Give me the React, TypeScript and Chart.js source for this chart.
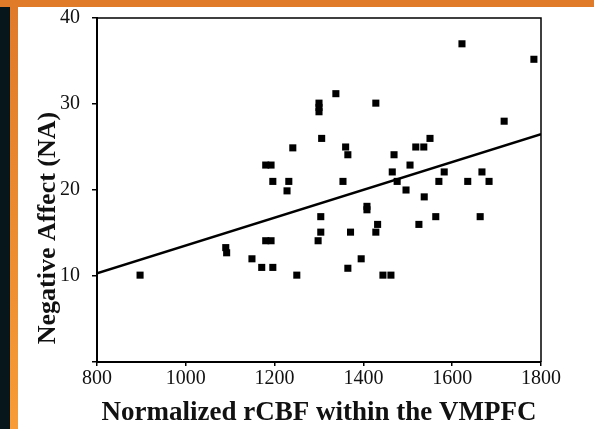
import React, { useEffect, useRef } from "react";
import { Chart, registerables } from "chart.js";

Chart.register(...registerables);

// Scatter data: normalized rCBF (x) vs Negative Affect (y)
const rcbf = [
  897, 1090, 1092, 1149, 1171, 1196, 1180, 1192, 1250, 1180, 1192, 1196, 1232,
  1228, 1241, 1298, 1304, 1304, 1300, 1300, 1300, 1306, 1338, 1354, 1360, 1365,
  1365, 1371, 1395, 1408, 1408, 1428, 1428, 1432, 1444, 1462, 1465, 1469, 1476,
  1496, 1505, 1518, 1536, 1525, 1537, 1550, 1563, 1570, 1582, 1622, 1635, 1663,
  1667, 1683, 1717, 1784,
];
const negAffect = [
  10.1, 13.3, 12.7, 12, 11, 11, 14.1, 14.1, 10.1, 22.9, 22.9, 21, 21, 19.9,
  24.9, 14.1, 15.1, 16.9, 30.1, 29.6, 29.1, 26, 31.2, 21, 25, 24.1, 10.9, 15.1,
  12, 18.1, 17.7, 30.1, 15.1, 16, 10.1, 10.1, 22.1, 24.1, 21, 20, 22.9, 25, 25,
  16, 19.2, 26, 16.9, 21, 22.1, 37, 21, 16.9, 22.1, 21, 28, 35.2,
];
// Regression line end points
const fitX = [800, 1800];
const fitY = [10.3, 26.5];

const xTicks = [800, 1000, 1200, 1400, 1600, 1800];
const yTicks = [0, 10, 20, 30, 40];

const X_TITLE = "Normalized rCBF within the VMPFC";
const Y_TITLE = "Negative Affect (NA)";

const boxPlugin = {
  id: "boxAndTitle",
  afterDraw(chart: any) {
    const { ctx, chartArea } = chart;
    const { left, right, top, bottom } = chartArea;
    ctx.save();
    ctx.strokeStyle = "#000";
    ctx.lineWidth = 1.5;
    ctx.beginPath();
    ctx.moveTo(left, top);
    ctx.lineTo(right, top);
    ctx.lineTo(right, bottom);
    ctx.stroke();
    // y title
    ctx.translate(48, (top + bottom) / 2 + 38);
    ctx.rotate(-Math.PI / 2);
    ctx.fillStyle = "#111";
    ctx.font = "bold 26px 'Liberation Serif'";
    ctx.textAlign = "center";
    ctx.textBaseline = "middle";
    ctx.fillText(Y_TITLE, 0, 0);
    ctx.restore();
  },
};

export default function App() {
  const ref = useRef<HTMLCanvasElement>(null);
  useEffect(() => {
    if (!ref.current) return;
    const points = rcbf.map((x, i) => ({ x, y: negAffect[i] }));
    const fit = fitX.map((x, i) => ({ x, y: fitY[i] }));
    const chart = new Chart(ref.current, {
      type: "scatter",
      data: {
        datasets: [
          {
            data: points,
            pointStyle: "rect",
            pointRadius: 5,
            backgroundColor: "#000",
            borderWidth: 0,
          },
          {
            type: "line",
            data: fit,
            borderColor: "#000",
            borderWidth: 2.5,
            pointRadius: 0,
            showLine: true,
            fill: false,
          } as any,
        ],
      },
      options: {
        animation: false,
        responsive: false,
        layout: { padding: { left: 18, top: 18, right: 53, bottom: 0 } },
        plugins: { legend: { display: false }, tooltip: { enabled: false } },
        scales: {
          x: {
            type: "linear",
            min: 800,
            max: 1800,
            afterBuildTicks: (s: any) => {
              s.ticks = xTicks.map((v) => ({ value: v }));
            },
            afterFit: (s: any) => {
              s.height = 67;
              s.paddingLeft = 0;
              s.paddingRight = 0;
            },
            ticks: {
              color: "#111",
              font: { family: "'Liberation Serif'", size: 20 },
              padding: 1,
              maxRotation: 0,
              callback: (v: any) => String(v),
            },
            grid: {
              drawOnChartArea: false,
              drawTicks: true,
              tickLength: 4,
              color: "#000",
              lineWidth: 1.5,
            },
            border: { display: true, color: "#000", width: 2 },
            title: {
              display: true,
              text: X_TITLE,
              color: "#111",
              font: { family: "'Liberation Serif'", size: 27, weight: "bold" },
              padding: { top: 0, bottom: 0 },
            },
          },
          y: {
            type: "linear",
            min: 0,
            max: 40,
            afterBuildTicks: (s: any) => {
              s.ticks = yTicks.map((v) => ({ value: v }));
            },
            afterFit: (s: any) => {
              s.width = 79;
              s.paddingTop = 0;
              s.paddingBottom = 0;
            },
            ticks: {
              color: "#111",
              font: { family: "'Liberation Serif'", size: 20 },
              padding: 12,
              callback: (v: any) => (v === 0 ? "" : String(v)),
            },
            grid: {
              drawOnChartArea: false,
              drawTicks: true,
              tickLength: 5,
              color: "#000",
              lineWidth: 1.5,
            },
            border: { display: true, color: "#000", width: 2 },
          },
        },
      },
      plugins: [boxPlugin],
    });
    return () => chart.destroy();
  }, []);

  return (
    <div
      style={{
        position: "fixed",
        left: 0,
        top: 0,
        width: 594,
        height: 429,
        background: "#fff",
        overflow: "hidden",
      }}
    >
      <div
        style={{
          position: "absolute",
          left: 0,
          top: 0,
          width: 10,
          height: 429,
          background: "#07161a",
        }}
      />
      <div
        style={{
          position: "absolute",
          left: 10,
          top: 0,
          width: 8,
          height: 429,
          background: "linear-gradient(#df7a2a, #f79c36)",
        }}
      />
      <div
        style={{
          position: "absolute",
          left: 0,
          top: 0,
          width: 594,
          height: 7,
          background: "#e07b2a",
        }}
      />
      <canvas
        ref={ref}
        width={594}
        height={429}
        style={{ position: "absolute", left: 0, top: 0, width: 594, height: 429 }}
      />
    </div>
  );
}
